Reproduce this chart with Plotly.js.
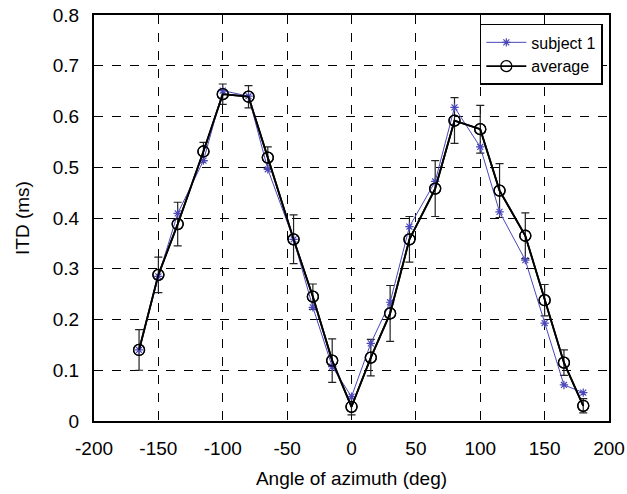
<!DOCTYPE html>
<html>
<head>
<meta charset="utf-8">
<script src="https://cdn.plot.ly/plotly-3.0.1.min.js"></script>
<style>html,body{margin:0;padding:0;background:#fff;}#chart{width:627px;height:494px;}</style>
</head>
<body>
<div id="chart"></div>
<script>
const azimuth = [-165,-150,-135,-115,-100,-80,-65,-45,-30,-15,0,15,30,45,65,80,100,115,135,150,165,180];
const subject1 = [0.140,0.285,0.409,0.513,0.651,0.640,0.496,0.358,0.224,0.107,0.048,0.153,0.234,0.383,0.472,0.618,0.540,0.412,0.317,0.193,0.071,0.056];
const average = [0.140,0.288,0.388,0.531,0.644,0.639,0.519,0.358,0.245,0.119,0.028,0.125,0.212,0.358,0.458,0.592,0.575,0.454,0.365,0.238,0.115,0.030];
const averageErr = [0.040,0.035,0.043,0.018,0.020,0.022,0.021,0.048,0.025,0.043,0.016,0.036,0.055,0.045,0.055,0.045,0.047,0.053,0.045,0.031,0.025,0.014];
const xTicks = [-200,-150,-100,-50,0,50,100,150,200];
const yTicks = [0,0.1,0.2,0.3,0.4,0.5,0.6,0.7,0.8];
const yTickText = ['0','0.1','0.2','0.3','0.4','0.5','0.6','0.7','0.8'];

const font = "Liberation Sans, Arial, sans-serif";
const traces = [
  {
    x: azimuth, y: average, name: 'average', type: 'scatter', mode: 'lines+markers',
    line: {color: '#000000', width: 1.8},
    marker: {symbol: 'circle-open', size: 11, color: '#000000', line: {width: 1.3}},
    error_y: {type: 'data', array: averageErr, visible: true, color: '#222222', thickness: 1.2, width: 4},
    showlegend: false
  },
  {
    x: azimuth, y: subject1, name: 'subject 1', type: 'scatter', mode: 'lines+markers',
    line: {color: '#4a48b8', width: 1},
    marker: {symbol: 'asterisk-open', size: 7, color: '#4a48b8', line: {width: 1.2, color: '#4a48b8'}}
  },
  {
    x: azimuth, y: average, name: 'average', type: 'scatter', mode: 'lines+markers',
    line: {color: '#000000', width: 1.8},
    marker: {symbol: 'circle-open', size: 11, color: '#000000', line: {width: 1.3}},
    hoverinfo: 'skip'
  }
];

const layout = {
  width: 627, height: 494,
  margin: {l: 94, r: 18, t: 15, b: 73},
  paper_bgcolor: '#ffffff', plot_bgcolor: '#ffffff',
  font: {family: font, size: 19, color: '#000'},
  xaxis: {
    range: [-200, 200], tickvals: xTicks, ticktext: xTicks.map(String),
    showgrid: true, gridcolor: '#000', griddash: 'dash', gridwidth: 1,
    zeroline: false, showline: true, linecolor: '#000', linewidth: 2, mirror: true,
    ticks: '', ticklabelstandoff: 9, tickfont: {size: 19, family: font},
    title: {text: 'Angle of azimuth (deg)', font: {size: 19, family: font}, standoff: 14}
  },
  yaxis: {
    range: [0, 0.8], tickvals: yTicks, ticktext: yTickText,
    showgrid: true, gridcolor: '#000', griddash: 'dash', gridwidth: 1,
    zeroline: false, showline: true, linecolor: '#000', linewidth: 2, mirror: true,
    ticks: '', ticklabelstandoff: 9, tickfont: {size: 19, family: font},
    title: {text: 'ITD (ms)', font: {size: 19, family: font}, standoff: 18}
  },
  legend: {
    x: 0.988, y: 0.978, xanchor: 'right', yanchor: 'top',
    bgcolor: '#ffffff', bordercolor: '#000', borderwidth: 1.5,
    font: {size: 16, family: font}, tracegroupgap: 0, itemwidth: 40
  },
  showlegend: true
};

Plotly.newPlot('chart', traces, layout, {displayModeBar: false, staticPlot: true});
</script>
</body>
</html>
